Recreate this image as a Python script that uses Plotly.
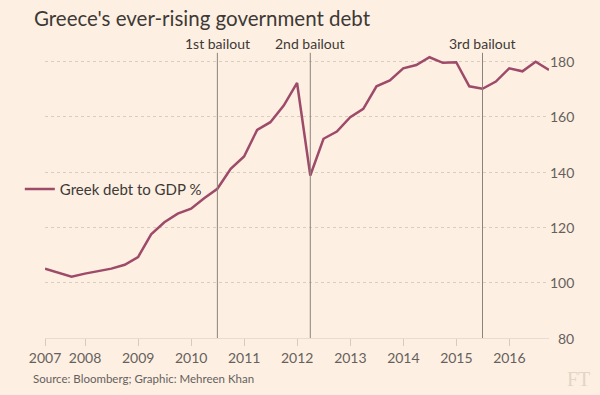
import plotly.graph_objects as go

# ---- data ----
quarter_ends = [f"{y}-{md}" for y in range(2007, 2017)
                for md in ("03-31", "06-30", "09-30", "12-31")][:39]
debt_to_gdp = [105.1, 103.6, 102.2, 103.3, 104.1, 105.1, 106.5, 109.3,
               117.5, 121.9, 125.0, 126.8, 130.6, 134.0, 141.2, 145.7,
               155.3, 158.1, 164.1, 172.3, 138.8, 152.1, 154.7, 159.9,
               162.9, 171.1, 173.2, 177.6, 178.8, 181.6, 179.6, 179.8,
               171.1, 170.2, 172.8, 177.6, 176.5, 180.0, 177.0]
bailout_dates = ["2010-06-30", "2012-03-31", "2015-06-30"]
bailout_labels = ["1st bailout", "2nd bailout", "3rd bailout"]
year_tick_vals = ["2007-03-31"] + [f"{y}-01-01" for y in range(2008, 2017)]
year_tick_text = [str(y) for y in range(2007, 2017)]
y_ticks = [80, 100, 120, 140, 160, 180]

BG = "#fdf0e3"
LINE = "#9e4a69"
TXT = "#66605c"
DARK = "#3d3936"
FONT = "Lato"

fig = go.Figure()
fig.add_trace(go.Scatter(
    x=quarter_ends, y=debt_to_gdp, mode="lines",
    name="Greek debt to GDP %",
    line=dict(color=LINE, width=2.5),
))

shapes = []
annotations = []
for d, lab in zip(bailout_dates, bailout_labels):
    shapes.append(dict(type="line", xref="x", yref="y", x0=d, x1=d,
                       y0=80, y1=183.2, line=dict(color="#8a837d", width=1)))
    annotations.append(dict(x=d, xref="x", y=1.031, yref="paper", text=lab,
                            showarrow=False, xanchor="center", yanchor="middle",
                            font=dict(family=FONT, size=14, color=DARK)))

for v in y_ticks:
    annotations.append(dict(x=1, xref="paper", xshift=27, y=v, yref="y",
                            text=str(v), showarrow=False, xanchor="right",
                            yanchor="middle",
                            font=dict(family=FONT, size=14, color=TXT)))

annotations.append(dict(x=-0.025, xref="paper", y=1.119, yref="paper",
                        text="Greece's ever-rising government debt",
                        showarrow=False, xanchor="left", yanchor="middle",
                        font=dict(family=FONT, size=20.5, color=DARK)))
annotations.append(dict(x=-0.028, xref="paper", y=-0.141, yref="paper",
                        text="Source: Bloomberg; Graphic: Mehreen Khan",
                        showarrow=False, xanchor="left", yanchor="middle",
                        font=dict(family=FONT, size=11.5, color=TXT)))
annotations.append(dict(x=1.085, xref="paper", y=-0.145, yref="paper",
                        text="FT", showarrow=False, xanchor="right",
                        yanchor="middle",
                        font=dict(family="Liberation Serif", size=20,
                                  color="#e3d5c6")))

fig.update_layout(
    width=600, height=395,
    margin=dict(l=45, r=51, t=52, b=57, autoexpand=False),
    paper_bgcolor=BG, plot_bgcolor=BG,
    font=dict(family=FONT, color=TXT),
    showlegend=True,
    legend=dict(x=-0.05, y=0.52, xanchor="left", yanchor="middle",
                bgcolor="rgba(0,0,0,0)", itemwidth=30,
                font=dict(family=FONT, size=15, color=DARK)),
    shapes=shapes,
    annotations=annotations,
    xaxis=dict(
        type="date", range=["2007-03-31", "2016-09-30"],
        tickvals=year_tick_vals, ticktext=year_tick_text,
        ticks="outside", ticklen=7, tickcolor="#d6cbc0", tickwidth=1,
        showgrid=False, showline=True, linecolor="#e8dccf", linewidth=1,
        zeroline=False, tickfont=dict(family=FONT, size=14, color=TXT),
    ),
    yaxis=dict(
        range=[80, 183.5], tickvals=y_ticks, showticklabels=False,
        showgrid=True, gridcolor="#d9cdbf", griddash="dot", gridwidth=1,
        zeroline=False, showline=False, ticks="",
    ),
)

fig.write_html(
    "out.html",
    config={"displayModeBar": False},
    post_script="document.body.style.margin='0';"
                "document.body.style.overflow='hidden';",
)
